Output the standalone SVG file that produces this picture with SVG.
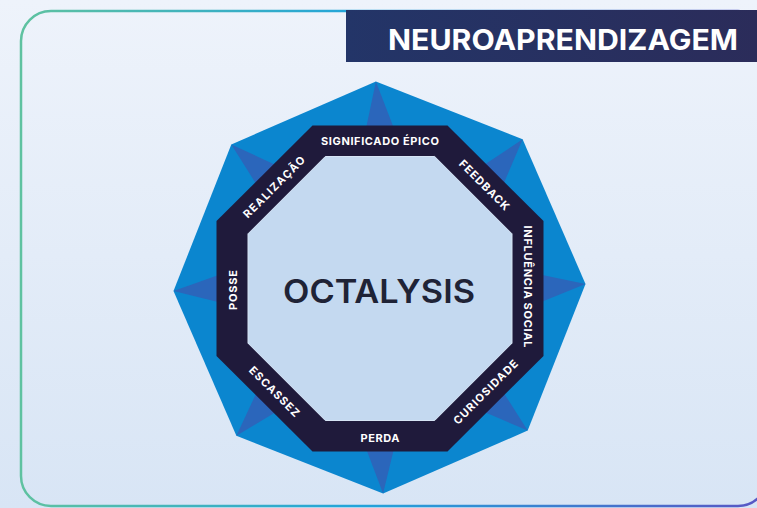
<svg xmlns="http://www.w3.org/2000/svg" width="757" height="508" viewBox="0 0 757 508">
  <defs>
    <linearGradient id="bg" x1="0" y1="0" x2="0" y2="1">
      <stop offset="0" stop-color="#eef3fb"/>
      <stop offset="1" stop-color="#d8e5f5"/>
    </linearGradient>
    <linearGradient id="border" gradientUnits="userSpaceOnUse" x1="20" y1="0" x2="770" y2="0">
      <stop offset="0" stop-color="#5fc2a0"/>
      <stop offset="0.45" stop-color="#22a4da"/>
      <stop offset="1" stop-color="#5a55c4"/>
    </linearGradient>
    <linearGradient id="banner" x1="0" y1="0" x2="1" y2="0">
      <stop offset="0" stop-color="#233568"/>
      <stop offset="1" stop-color="#2b2c5a"/>
    </linearGradient>
    <style>
      .lbl { font-family: Inter, "Noto Sans", "Liberation Sans", sans-serif; font-size: 11px; font-weight: 700; fill: #ffffff; text-anchor: middle; dominant-baseline: central; }
      .facet { fill: #2b66bb; }
    </style>
  </defs>

  <rect x="0" y="0" width="757" height="508" fill="url(#bg)"/>
  <rect id="card" x="21" y="11" width="747" height="495" rx="30" ry="30" fill="none" stroke="url(#border)" stroke-width="2.5"/>

  <g id="banner-node">
    <rect x="346" y="10" width="411" height="52" fill="url(#banner)"/>
    <text x="563" y="50" font-family="Inter, 'Noto Sans', 'Liberation Sans', sans-serif" font-size="29" font-weight="700" fill="#ffffff" text-anchor="middle" textLength="350" lengthAdjust="spacingAndGlyphs">NEUROAPRENDIZAGEM</text>
  </g>

  <g id="octalysis">
    <polygon points="375.9,81.5 522.6,139.3 585.5,283.9 527.7,430.6 383.1,493.5 236.4,435.7 173.5,291.1 231.3,144.4" fill="#0b86cf"/>
    <g id="facets">
      <polygon class="facet" points="375.9,81.5 366,128.5 394,128.5"/>
      <polygon class="facet" points="522.6,139.3 483.2,165.5 503,185.3"/>
      <polygon class="facet" points="585.5,283.9 540,274.5 540,302.5"/>
      <polygon class="facet" points="527.7,430.6 503,391.7 483.2,411.5"/>
      <polygon class="facet" points="383.1,493.5 394,448.5 366,448.5"/>
      <polygon class="facet" points="236.4,435.7 257,391.7 276.8,411.5"/>
      <polygon class="facet" points="173.5,291.1 220,274.5 220,302.5"/>
      <polygon class="facet" points="231.3,144.4 257,185.3 276.8,165.5"/>
    </g>
    <polygon id="band" points="312.5,125.5 447.5,125.5 543.5,221 543.5,356 447.5,451.5 312.5,451.5 216.5,356 216.5,221" fill="#1f1a3b"/>
    <polygon id="core" points="325.3,156.5 434.7,156.5 512,233.8 512,343.2 434.7,420.5 325.3,420.5 248,343.2 248,233.8" fill="#c4d9f0" stroke="#d6e4f5" stroke-width="1"/>
    <text x="379" y="303" font-family="Inter, 'Noto Sans', 'Liberation Sans', sans-serif" font-size="32" font-weight="600" fill="#1f2336" text-anchor="middle" textLength="192" lengthAdjust="spacingAndGlyphs">OCTALYSIS</text>
  </g>

  <g id="label-significado"><text class="lbl" x="380" y="141" textLength="118">SIGNIFICADO ÉPICO</text></g>
  <g id="label-feedback"><text class="lbl" transform="translate(484.3,185) rotate(45)" textLength="66">FEEDBACK</text></g>
  <g id="label-influencia"><text class="lbl" transform="translate(527.5,286.5) rotate(90)" textLength="122">INFLUÊNCIA SOCIAL</text></g>
  <g id="label-curiosidade"><text class="lbl" transform="translate(485.5,392) rotate(-45)" textLength="86">CURIOSIDADE</text></g>
  <g id="label-perda"><text class="lbl" x="380" y="437.5" textLength="39">PERDA</text></g>
  <g id="label-escassez"><text class="lbl" transform="translate(274.5,391.5) rotate(45)" textLength="66">ESCASSEZ</text></g>
  <g id="label-posse"><text class="lbl" transform="translate(232.5,290) rotate(-90)" textLength="40">POSSE</text></g>
  <g id="label-realizacao"><text class="lbl" transform="translate(274,187) rotate(-45)" textLength="82">REALIZAÇÃO</text></g>
</svg>
